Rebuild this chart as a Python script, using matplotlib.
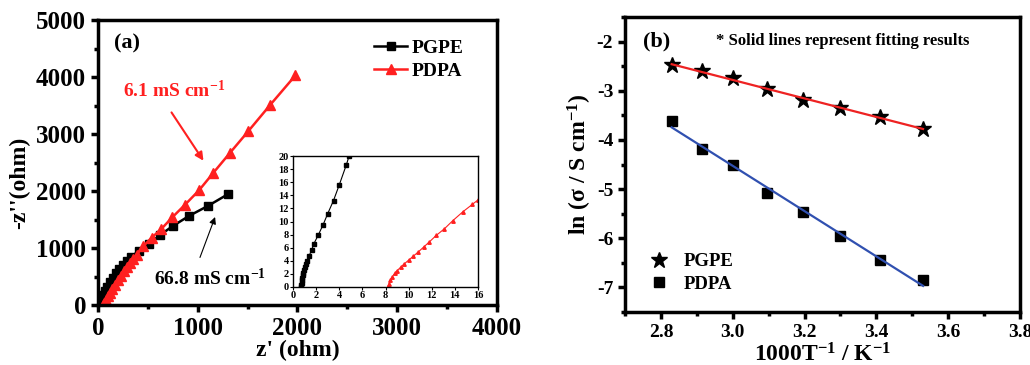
import numpy as np
import matplotlib
matplotlib.use("Agg")
import matplotlib.pyplot as plt
from matplotlib.ticker import MultipleLocator

plt.rcParams['font.family'] = ['Liberation Serif', 'DejaVu Serif']
plt.rcParams['font.weight'] = 'bold'
plt.rcParams['mathtext.fontset'] = 'custom'
plt.rcParams['mathtext.rm'] = 'Liberation Serif:bold'
plt.rcParams['mathtext.default'] = 'rm'
plt.rcParams['axes.unicode_minus'] = False

# ---- panel (a): Nyquist plots ----
pgpe_zr = [5, 15, 30, 50, 70, 95, 120, 150, 185, 215, 250, 290, 330, 411, 511, 622, 755, 916, 1106, 1300]
pgpe_zi = [0, 50, 110, 180, 240, 320, 400, 480, 560, 630, 700, 770, 840, 952, 1070, 1228, 1391, 1566, 1742, 1941]
pdpa_zr = [50, 65, 80, 100, 120, 145, 170, 200, 230, 260, 290, 320, 355, 388, 454, 538, 632, 745, 873, 1013, 1157, 1324, 1508, 1725, 1980]
pdpa_zi = [0, 40, 90, 150, 210, 280, 350, 430, 510, 590, 660, 730, 810, 880, 1030, 1181, 1328, 1538, 1760, 2012, 2320, 2671, 3052, 3508, 4030]

# inset (high frequency region)
in_pgpe_zr = [0.70, 0.72, 0.74, 0.77, 0.80, 0.84, 0.88, 0.93, 1.0, 1.1, 1.2, 1.4, 1.6, 1.8, 2.2, 2.6, 3.0, 3.5, 4.0, 4.6, 4.85]
in_pgpe_zi = [0.0, 0.3, 0.6, 1.0, 1.4, 1.8, 2.2, 2.6, 3.0, 3.5, 4.0, 4.8, 5.6, 6.6, 8.0, 9.5, 11.2, 13.2, 15.6, 18.6, 20.0]
in_pdpa_zr = [8.2, 8.3, 8.4, 8.6, 8.8, 9.0, 9.3, 9.6, 10.0, 10.4, 10.8, 11.3, 11.8, 12.4, 13.1, 13.8, 14.7, 15.5, 16.0]
in_pdpa_zi = [0.0, 0.5, 1.0, 1.6, 2.1, 2.5, 3.0, 3.5, 4.1, 4.7, 5.3, 6.1, 6.9, 7.9, 8.9, 10.1, 11.5, 12.6, 13.3]

# ---- panel (b): Arrhenius ----
inv_T = [2.83, 2.915, 3.0, 3.095, 3.195, 3.3, 3.41, 3.53]
ln_pgpe = [-2.48, -2.60, -2.75, -2.97, -3.18, -3.35, -3.53, -3.78]
ln_pdpa = [-3.62, -4.18, -4.50, -5.07, -5.47, -5.95, -6.45, -6.85]

fig = plt.figure(figsize=(10.30, 3.65), dpi=100)


def style_axes(ax, lw=2.2, size=14):
	for s in ax.spines.values():
		s.set_linewidth(lw)
	ax.tick_params(which='major', direction='out', length=5, width=lw, labelsize=size)
	ax.tick_params(which='minor', direction='out', length=3, width=lw)
	ax.tick_params(top=False, right=False)
	for lab in ax.get_xticklabels() + ax.get_yticklabels():
		lab.set_fontweight('bold')


axA = fig.add_axes([0.0951, 0.1644, 0.3874, 0.7806])
axA.plot(pgpe_zr, pgpe_zi, '-s', color='black', lw=1.8, ms=6, label='PGPE')
axA.plot(pdpa_zr, pdpa_zi, '-^', color='#ff2020', lw=1.8, ms=7, label='PDPA')
axA.set_xlim(0, 4000)
axA.set_ylim(0, 5000)
axA.xaxis.set_major_locator(MultipleLocator(1000))
axA.xaxis.set_minor_locator(MultipleLocator(500))
axA.yaxis.set_major_locator(MultipleLocator(1000))
axA.yaxis.set_minor_locator(MultipleLocator(500))
style_axes(axA, lw=2.5, size=18)
axA.set_xlabel("z' (ohm)", fontsize=17, fontweight='bold', labelpad=0)
axA.set_ylabel("-z''(ohm)", fontsize=17, fontweight='bold')
axA.yaxis.set_label_coords(-0.17, 0.43)
axA.text(0.04, 0.9, '(a)', transform=axA.transAxes, fontsize=16, fontweight='bold')
axA.legend(loc='upper right', frameon=False, fontsize=14, handlelength=1.7,
	handletextpad=0.2, borderaxespad=0.0, labelspacing=0.3, bbox_to_anchor=(0.935, 0.96))
axA.annotate('', xy=(1073, 2491), xytext=(722, 3420),
	arrowprops=dict(arrowstyle='-|>', color='#ff2020', lw=1.5, mutation_scale=12))
axA.text(250, 3650, r'6.1 mS cm$^{-1}$', color='#ff2020', fontsize=14, fontweight='bold')
axA.annotate('', xy=(1184, 1590), xytext=(1013, 789),
	arrowprops=dict(arrowstyle='-|>', color='black', lw=0.8, mutation_scale=10))
axA.text(560, 350, r'66.8 mS cm$^{-1}$', color='black', fontsize=14, fontweight='bold')

axIn = fig.add_axes([0.2845, 0.2137, 0.1796, 0.3589])
axIn.plot(in_pgpe_zr, in_pgpe_zi, '-s', color='black', lw=0.8, ms=2.2)
axIn.plot(in_pdpa_zr, in_pdpa_zi, '-^', color='#ff2020', lw=0.8, ms=2.5)
axIn.set_xlim(0, 16)
axIn.set_ylim(0, 20)
axIn.xaxis.set_major_locator(MultipleLocator(2))
axIn.yaxis.set_major_locator(MultipleLocator(2))
for s in axIn.spines.values():
	s.set_linewidth(1.0)
axIn.tick_params(direction='out', length=2, width=0.8, labelsize=7.5, pad=1)

axB = fig.add_axes([0.6068, 0.1452, 0.3835, 0.8082])
axB.plot(inv_T, ln_pgpe, '*', color='black', ms=12, ls='none', label='PGPE')
axB.plot(inv_T, ln_pdpa, 's', color='black', ms=7, ls='none', label='PDPA')
xt = np.array([inv_T[0], inv_T[-1]])
k1, b1 = np.polyfit(inv_T, ln_pgpe, 1)
k2, b2 = np.polyfit(inv_T, ln_pdpa, 1)
axB.plot(xt, k1 * xt + b1, color='#ee2222', lw=1.6)
axB.plot(xt, k2 * xt + b2, color='#3050b0', lw=1.6)
axB.set_xlim(2.7, 3.8)
axB.set_ylim(-7.5, -1.5)
axB.xaxis.set_major_locator(MultipleLocator(0.2))
axB.xaxis.set_minor_locator(MultipleLocator(0.1))
axB.yaxis.set_major_locator(MultipleLocator(1))
axB.yaxis.set_minor_locator(MultipleLocator(0.5))
axB.xaxis.set_major_formatter(matplotlib.ticker.FormatStrFormatter('%.1f'))
style_axes(axB, lw=2.5, size=14)
axB.set_xlabel(r'1000T$^{-1}$ / K$^{-1}$', fontsize=17, fontweight='bold', labelpad=2)
axB.set_ylabel(r'ln ($\sigma$ / S cm$^{-1}$)', fontsize=17, fontweight='bold', labelpad=2)
axB.text(0.045, 0.9, '(b)', transform=axB.transAxes, fontsize=16, fontweight='bold')
axB.text(0.23, 0.905, '* Solid lines represent fitting results', transform=axB.transAxes,
	fontsize=12, fontweight='bold')
axB.legend(loc='lower left', frameon=False, fontsize=13.5, handletextpad=0.3,
	borderaxespad=0.3, labelspacing=0.3, bbox_to_anchor=(0.005, 0.02))

fig.savefig('out.png', dpi=100)
